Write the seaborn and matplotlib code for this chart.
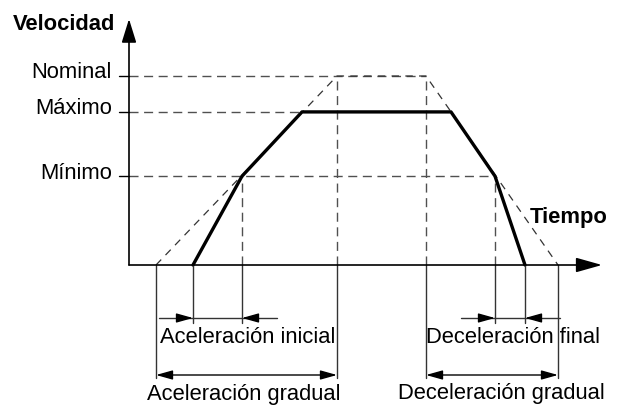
import numpy as np
import pandas as pd
import matplotlib
matplotlib.use('Agg')
import matplotlib.pyplot as plt
import seaborn as sns

sns.set_theme(style='white')
plt.rcParams['font.family'] = ['Liberation Sans', 'DejaVu Sans']

# velocidades (en % de la nominal)
level_names = ['Nominal', 'Máximo', 'Mínimo']
level_values = [100, 81, 47]

# perfil real (linea gruesa)
t_profile = [64, 113, 173, 322, 366, 396]
v_profile = [0, 47, 81, 81, 47, 0]

# perfil gradual (discontinuo)
t_gradual = [27, 208, 297, 429]
v_gradual = [0, 100, 100, 0]

# fin de cada linea horizontal discontinua
level_ends = [297, 173, 366]

# cotas: (t_inicio, t_fin, texto)
acel_inicial = (64, 113, 'Aceleración inicial')
acel_gradual = (27, 208, 'Aceleración gradual')
decel_final = (366, 396, 'Deceleración final')
decel_gradual = (297, 429, 'Deceleración gradual')

PX = 1.89  # pixeles por unidad de velocidad
FS = 15.8


def v_at(py):
    # fila en pixeles -> unidad de velocidad
    return (265 - py) / PX


fig = plt.figure(figsize=(6.19, 4.05), dpi=100)
ax = fig.add_axes([0, 0, 1, 1])
ax.set_xlim(-129, 490)
ax.set_ylim(v_at(405), v_at(0))
ax.axis('off')

dash = dict(color='#505050', lw=1.0, dashes=(6.5, 4))

# lineas de referencia discontinuas
for v, t_end in zip(level_values, level_ends):
    ax.plot([0, t_end], [v, v], **dash)
    ax.plot([-10, 0], [v, v], color='black', lw=1.0)
for t, v in [(t_profile[1], v_profile[1]), (t_gradual[1], v_gradual[1]),
             (t_gradual[2], v_gradual[2]), (t_profile[4], v_profile[4])]:
    ax.plot([t, t], [0, v], **dash)

sns.lineplot(x=t_gradual, y=v_gradual, ax=ax, sort=False, color='#333333',
             lw=0.9, estimator=None, linestyle=(0, (6, 5)))
sns.lineplot(x=t_profile, y=v_profile, ax=ax, sort=False, color='black',
             lw=2.4, estimator=None)

# ejes con flechas
ax.annotate('', xy=(0, v_at(19)), xytext=(0, 0),
            arrowprops=dict(arrowstyle='-|>,head_length=1.45,head_width=0.45',
                            color='black', lw=1.2, shrinkA=0, shrinkB=0,
                            mutation_scale=10))
ax.annotate('', xy=(473, 0), xytext=(0, 0),
            arrowprops=dict(arrowstyle='-|>,head_length=1.6,head_width=0.45',
                            color='black', lw=1.2, shrinkA=0, shrinkB=0,
                            mutation_scale=10))

ax.text(-14, v_at(30), 'Velocidad', ha='right', va='baseline',
        fontsize=FS, fontweight='bold', color='black')
ax.text(479, v_at(223), 'Tiempo', ha='right', va='baseline',
        fontsize=FS, fontweight='bold', color='black')
for name, v in zip(level_names, level_values):
    ax.text(-17, v - 1.3, name, ha='right', va='baseline', fontsize=FS,
            color='black')

# lineas de cota verticales
vline = dict(color='#333333', lw=1.0)
for t0, t1, _ in [acel_inicial, decel_final]:
    for t in (t0, t1):
        ax.plot([t, t], [0, v_at(323)], **vline)
for t0, t1, _ in [acel_gradual, decel_gradual]:
    for t in (t0, t1):
        ax.plot([t, t], [0, v_at(378)], **vline)

head = 'head_length=1.0,head_width=0.28'
# cotas cortas (flechas hacia dentro)
for t0, t1, label in [acel_inicial, decel_final]:
    y = v_at(318)
    ax.plot([t0 - 34, t1 + 35], [y, y], color='#333333', lw=1.0)
    ax.annotate('', xy=(t0, y), xytext=(t0 - 14, y),
                arrowprops=dict(arrowstyle='-|>,' + head, color='black', lw=1,
                                shrinkA=0, shrinkB=0, mutation_scale=10))
    ax.annotate('', xy=(t1, y), xytext=(t1 + 14, y),
                arrowprops=dict(arrowstyle='-|>,' + head, color='black', lw=1,
                                shrinkA=0, shrinkB=0, mutation_scale=10))

# cotas largas (doble flecha)
for t0, t1, label in [acel_gradual, decel_gradual]:
    y = v_at(375)
    ax.annotate('', xy=(t1, y), xytext=(t0, y),
                arrowprops=dict(arrowstyle='<|-|>,' + head, color='black', lw=1,
                                shrinkA=0, shrinkB=0, mutation_scale=10))

ax.text(118.5, v_at(343), acel_inicial[2], ha='center', va='baseline',
        fontsize=FS, color='black')
ax.text(115, v_at(400), acel_gradual[2], ha='center', va='baseline',
        fontsize=FS, color='black')
ax.text(383.5, v_at(343), decel_final[2], ha='center', va='baseline',
        fontsize=FS, color='black')
ax.text(372, v_at(399), decel_gradual[2], ha='center', va='baseline',
        fontsize=FS, color='black')

fig.savefig('out.png', dpi=100, facecolor='white')
